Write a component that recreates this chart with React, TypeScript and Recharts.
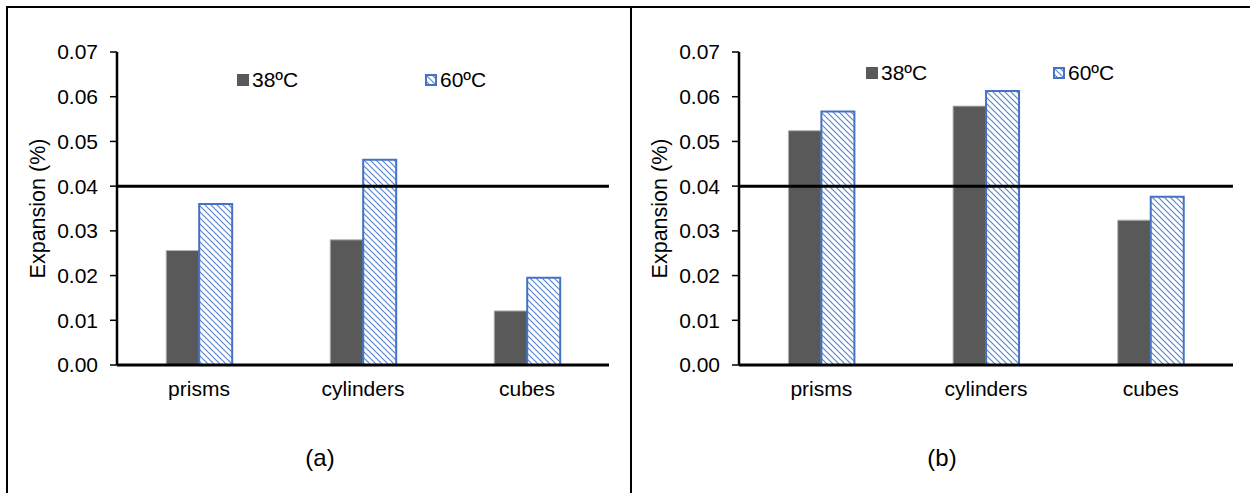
import React from 'react';
import {
  BarChart,
  Bar,
  XAxis,
  YAxis,
  ReferenceLine,
  Legend,
  Label,
} from 'recharts';

const categories = ['prisms', 'cylinders', 'cubes'];
const seriesNames = ['38ºC', '60ºC'];
const panelA38 = [0.0256, 0.028, 0.0121];
const panelA60 = [0.036, 0.0459, 0.0195];
const panelB38 = [0.0524, 0.0579, 0.0324];
const panelB60 = [0.0567, 0.0613, 0.0376];
const yTicks = [0, 0.01, 0.02, 0.03, 0.04, 0.05, 0.06, 0.07];
const limit = 0.04;
const captions = ['(a)', '(b)'];

const FONT = '"Liberation Sans", Arial, sans-serif';
const BLUE = '#4472C4';
const DARK = '#595959';

const buildRows = (v38: number[], v60: number[]) =>
  categories.map((name, i) => ({ name, t38: v38[i], t60: v60[i] }));

const HatchDef = ({ id }: { id: string }) => (
  <defs>
    <pattern id={id} patternUnits="userSpaceOnUse" width="6" height="6">
      <rect width="6" height="6" fill="#fff" />
      <path
        d="M-1,-1 L7,7 M-4,2 L2,8 M2,-4 L8,2"
        stroke="#5b86cf"
        strokeWidth={1.2}
      />
    </pattern>
  </defs>
);

const YTitle = (props: any) => {
  const vb = props.viewBox || {};
  const cx = vb.x - 19;
  const cy = vb.y + vb.height / 2;
  return (
    <text
      x={cx}
      y={cy}
      transform={`rotate(-90, ${cx}, ${cy})`}
      textAnchor="middle"
      dominantBaseline="central"
      fontSize={21.5}
      fill="#000"
    >
      Expansion (%)
    </text>
  );
};

const legendContent = (xs: number[], hatchId: string) => (props: any) => {
  const items = props.payload || [];
  return (
    <div style={{ position: 'relative', height: 24 }}>
      {items.map((it: any, i: number) => (
        <div
          key={it.value}
          style={{
            position: 'absolute',
            left: xs[i],
            top: 0,
            display: 'flex',
            alignItems: 'center',
            fontSize: 21,
            lineHeight: '24px',
            color: '#000',
          }}
        >
          <svg width={12} height={12} style={{ marginRight: 3 }}>
            <HatchDef id={hatchId + 'L'} />
            {i === 0 ? (
              <rect x={0} y={0} width={12} height={12} fill={DARK} />
            ) : (
              <rect
                x={1}
                y={1}
                width={10}
                height={10}
                fill={`url(#${hatchId}L)`}
                stroke={BLUE}
                strokeWidth={2}
              />
            )}
          </svg>
          {it.value}
        </div>
      ))}
    </div>
  );
};

type PanelProps = {
  v38: number[];
  v60: number[];
  hatchId: string;
  marginLeft: number;
  marginRight: number;
  legendXs: number[];
  legendTop: number;
};

function Panel({ v38, v60, hatchId, marginLeft, marginRight, legendXs, legendTop }: PanelProps) {
  const rows = buildRows(v38, v60);
  return (
    <BarChart
      width={625}
      height={493}
      data={rows}
      margin={{ top: 52, right: marginRight, left: marginLeft, bottom: 74 }}
      barCategoryGap="30%"
      barGap={0}
    >
      <HatchDef id={hatchId} />
      <XAxis
        dataKey="name"
        height={30}
        tickLine={false}
        tickSize={0}
        tickMargin={16}
        axisLine={{ stroke: '#000', strokeWidth: 3 }}
        tick={{ fontSize: 21, fill: '#000' }}
        interval={0}
      />
      <XAxis
        xAxisId="top"
        orientation="top"
        dataKey="name"
        height={0}
        tick={false}
        tickLine={false}
        axisLine={{ stroke: '#000', strokeWidth: 1.5 }}
      />
      <YAxis
        width={60}
        domain={[0, 0.07]}
        ticks={yTicks}
        tickSize={7}
        tickMargin={12}
        tickFormatter={(v: number) => v.toFixed(2)}
        tick={{ fontSize: 21, fill: '#000' }}
        tickLine={{ stroke: '#000', strokeWidth: 1.5 }}
        axisLine={{ stroke: '#000', strokeWidth: 2.5 }}
      >
        <Label content={<YTitle />} />
      </YAxis>
      <YAxis
        yAxisId="r"
        orientation="right"
        width={0}
        domain={[0, 0.07]}
        tick={false}
        tickLine={false}
        axisLine={{ stroke: '#000', strokeWidth: 2 }}
      />
      <Legend
        content={legendContent(legendXs, hatchId)}
        wrapperStyle={{ top: legendTop, left: 0, width: 625, height: 24 }}
      />
      <Bar
        dataKey="t38"
        name={seriesNames[0]}
        fill={DARK}
        stroke="#b4b4b4"
        strokeWidth={1}
        isAnimationActive={false}
      />
      <Bar
        dataKey="t60"
        name={seriesNames[1]}
        fill={`url(#${hatchId})`}
        stroke={BLUE}
        strokeWidth={2}
        isAnimationActive={false}
      />
      <ReferenceLine y={limit} stroke="#000" strokeWidth={3} ifOverflow="extendDomain" />
    </BarChart>
  );
}

export default function App() {
  return (
    <div
      style={{
        position: 'absolute',
        left: 0,
        top: 0,
        width: 1250,
        height: 493,
        background: '#fff',
        fontFamily: FONT,
        overflow: 'hidden',
      }}
    >
      <div
        style={{
          position: 'absolute',
          left: 6,
          top: 6,
          width: 1246,
          height: 500,
          borderLeft: '2px solid #000',
          borderTop: '2px solid #000',
          borderRight: '2px solid #000',
        }}
      />
      <div
        style={{ position: 'absolute', left: 630, top: 6, width: 2, height: 500, background: '#000' }}
      />
      <div style={{ position: 'absolute', left: 0, top: 0 }}>
        <Panel
          v38={panelA38}
          v60={panelA60}
          hatchId="hatchA"
          marginLeft={57}
          marginRight={16}
          legendXs={[237, 425]}
          legendTop={68}
        />
      </div>
      <div style={{ position: 'absolute', left: 625, top: 0 }}>
        <Panel
          v38={panelB38}
          v60={panelB60}
          hatchId="hatchB"
          marginLeft={54}
          marginRight={17}
          legendXs={[241, 428]}
          legendTop={61}
        />
      </div>
      {captions.map((c, i) => (
        <div
          key={c}
          style={{
            position: 'absolute',
            left: i === 0 ? 220 : 842,
            width: 200,
            top: 444,
            textAlign: 'center',
            fontSize: 24,
            lineHeight: '28px',
            color: '#000',
          }}
        >
          {c}
        </div>
      ))}
    </div>
  );
}
